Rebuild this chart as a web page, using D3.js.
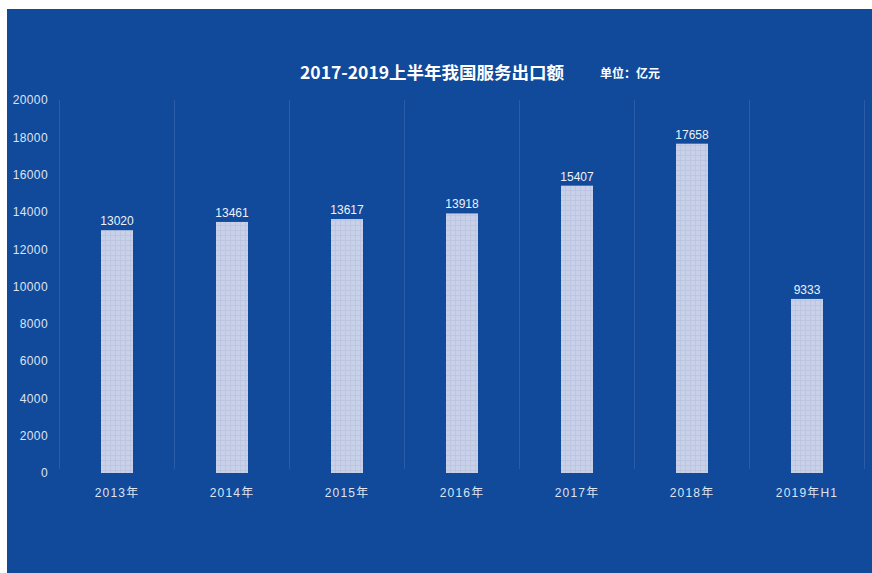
<!DOCTYPE html>
<html>
<head>
<meta charset="utf-8">
<script src="https://cdn.jsdelivr.net/npm/d3@7"></script>
<style>
  html, body { margin: 0; padding: 0; background: #ffffff; }
  svg { display: block; }
</style>
</head>
<body>
<svg id="chart" width="872" height="573"></svg>
<script>
// Service exports, 100 million yuan
const categories = ["2013年", "2014年", "2015年", "2016年", "2017年", "2018年", "2019年H1"];
const values = [13020, 13461, 13617, 13918, 15407, 17658, 9333];
const yTicks = [0, 2000, 4000, 6000, 8000, 10000, 12000, 14000, 16000, 18000, 20000];
const titleText = "2017-2019上半年我国服务出口额";
const unitText = "单位：亿元";

const W = 872, H = 573;
const svg = d3.select("#chart");
const latin = "'Liberation Sans', Arial, 'Noto Sans CJK SC', sans-serif";
const cjk = "'Noto Sans CJK SC', 'Liberation Sans', sans-serif";

// Panel background
svg.append("rect").attr("x", 7).attr("y", 9).attr("width", W - 7).attr("height", H - 9)
  .attr("fill", "#114a9b");

// Fine grid texture for the bars
const defs = svg.append("defs");
const pat = defs.append("pattern").attr("id", "barTex")
  .attr("patternUnits", "userSpaceOnUse").attr("width", 5).attr("height", 5);
pat.append("rect").attr("width", 5).attr("height", 5).attr("fill", "#c9d1e8");
pat.append("path").attr("d", "M0 0.5H5M0.5 0V5").attr("stroke", "#bcc6e2").attr("stroke-width", 1);

const plot = { left: 59.5, right: 864.5, top: 100, bottom: 473 };

const x = d3.scaleBand().domain(categories).range([plot.left, plot.right]).paddingInner(0).paddingOuter(0);
const y = d3.scaleLinear().domain([0, 20000]).range([plot.bottom, plot.top]);

// Category separators
const seps = categories.map(c => x(c)).concat([plot.right]);
svg.append("g").selectAll("line").data(seps).join("line")
  .attr("x1", d => d).attr("x2", d => d)
  .attr("y1", plot.top).attr("y2", plot.bottom - 4)
  .attr("stroke", "#2a5ca8").attr("stroke-width", 1);

// Y axis
const yAxis = d3.axisLeft(y).tickValues(yTicks).tickSize(0).tickPadding(0).tickFormat(d3.format("d"));
const gy = svg.append("g").attr("transform", `translate(48,0)`).call(yAxis);
gy.select(".domain").remove();
gy.selectAll("text").attr("fill", "#dfe4f1").attr("font-family", latin).attr("font-size", 12)
  .attr("letter-spacing", 0.4);

// X axis
const xAxis = d3.axisBottom(x).tickSize(0).tickPadding(0);
const gx = svg.append("g").attr("transform", `translate(0,${plot.bottom + 15})`).call(xAxis);
gx.select(".domain").remove();
gx.selectAll("text").attr("fill", "#dfe4f1").attr("font-family", latin).attr("font-size", 12)
  .attr("letter-spacing", 1.2);

// Bars
const barW = 32;
svg.append("g").selectAll("rect").data(values).join("rect")
  .attr("x", (d, i) => x(categories[i]) + x.bandwidth() / 2 - barW / 2)
  .attr("y", d => y(d))
  .attr("width", barW)
  .attr("height", d => y(0) - y(d))
  .attr("fill", "url(#barTex)");

// Value labels
svg.append("g").selectAll("text").data(values).join("text")
  .attr("x", (d, i) => x(categories[i]) + x.bandwidth() / 2)
  .attr("y", d => y(d) - 5)
  .attr("text-anchor", "middle")
  .attr("fill", "#eef1f8").attr("font-family", latin).attr("font-size", 12)
  .text(d => d);

// Title
svg.append("text").attr("x", 300).attr("y", 79)
  .attr("fill", "#ffffff").attr("font-family", cjk).attr("font-weight", "bold").attr("font-size", 17.5)
  .text(titleText);
svg.append("text").attr("x", 600).attr("y", 78)
  .attr("fill", "#ffffff").attr("font-family", cjk).attr("font-weight", "bold").attr("font-size", 12)
  .text(unitText);
</script>
</body>
</html>
